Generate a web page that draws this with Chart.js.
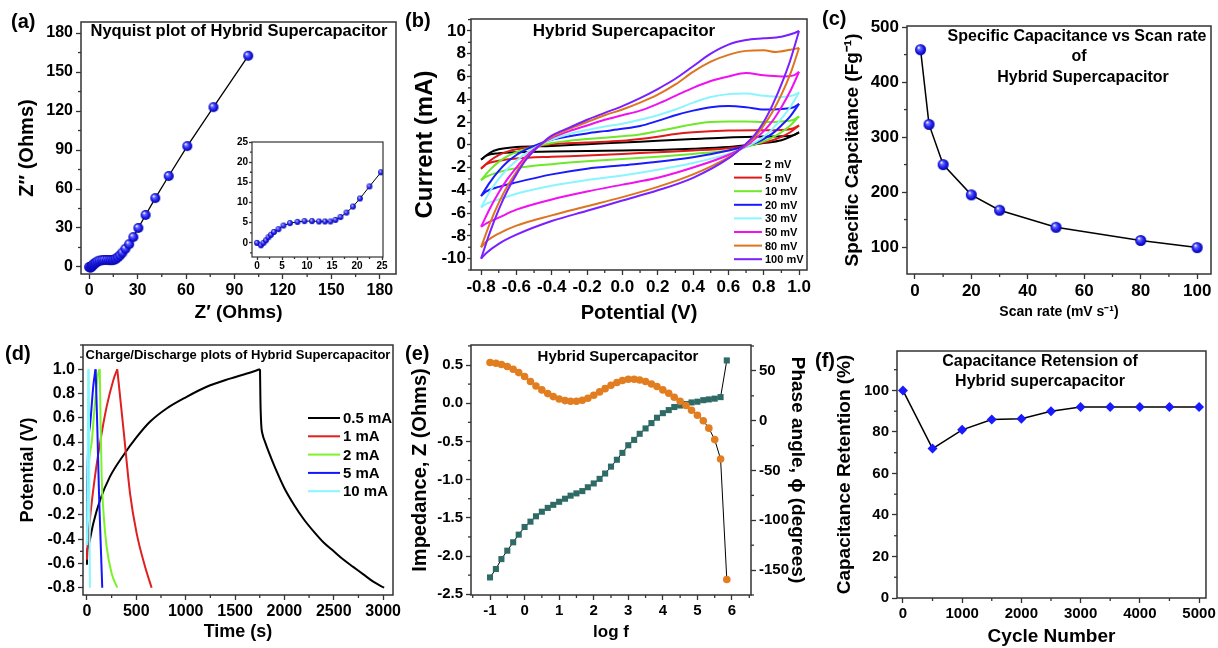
<!DOCTYPE html>
<html>
<head>
<meta charset="utf-8">
<title>Hybrid Supercapacitor</title>
<script src="https://cdn.jsdelivr.net/npm/chart.js@4.4.1/dist/chart.umd.min.js"></script>
<style>
  body { margin: 0; background: #fff; }
  #fig { position: relative; width: 1218px; height: 648px; overflow: hidden; background: #fff; }
  #fig canvas { position: absolute; }
  .tag { position: absolute; font: bold 20px/20px "Liberation Sans", Arial, sans-serif; color: #000; }
</style>
</head>
<body>
<div id="fig">
  <canvas id="chartA" width="405" height="325" style="left:0;top:0"></canvas>
  <canvas id="chartInset" width="160" height="140" style="left:230px;top:135px"></canvas>
  <canvas id="chartB" width="410" height="325" style="left:405px;top:0"></canvas>
  <canvas id="chartC" width="403" height="325" style="left:815px;top:0"></canvas>
  <canvas id="chartD" width="405" height="318" style="left:0;top:330px"></canvas>
  <canvas id="chartE" width="405" height="318" style="left:405px;top:330px"></canvas>
  <canvas id="chartF" width="403" height="318" style="left:815px;top:330px"></canvas>
  <div class="tag" style="left:11px;top:11px">(a)</div>
  <div class="tag" style="left:405px;top:10px">(b)</div>
  <div class="tag" style="left:822px;top:8px">(c)</div>
  <div class="tag" style="left:5px;top:343px">(d)</div>
  <div class="tag" style="left:405px;top:343px">(e)</div>
  <div class="tag" style="left:815px;top:350px">(f)</div>
</div>
<script>
const FONT = '"Liberation Sans", Arial, sans-serif';

// (a) Nyquist plot
const nyqX = [0, 0.8, 1.3, 1.8, 2.3, 2.8, 3.4, 4.3, 5.3, 6.6, 8.1, 9.5, 11, 12.4, 13.6, 14.7, 15.7, 16.7, 17.9, 19.2, 20.6, 22.5, 24.8, 27.4, 30.5, 35, 41, 49.3, 60.8, 77, 98.5];
const nyqY = [0, -0.6, 0, 0.65, 1.4, 2, 2.7, 3.4, 4.3, 4.9, 5.2, 5.4, 5.4, 5.3, 5.3, 5.3, 5.7, 6.4, 7.5, 9, 11, 14, 17.5, 23, 30, 40, 53, 70, 93, 123, 162.5];
const nyqTicks = [0, 30, 60, 90, 120, 150, 180];
const insetTicks = [0, 5, 10, 15, 20, 25];

// (b) cyclic voltammetry, [potential V, current mA]
const cvLabels = ['2 mV', '5 mV', '10 mV', '20 mV', '30 mV', '50 mV', '80 mV', '100 mV'];
const cvColors = ['#000000', '#e01a1a', '#6ee82a', '#1a1aff', '#8af4ff', '#f010f0', '#dd7420', '#7a1fff'];
const cv2Up = [[-0.8,-1.3],[-0.75,-0.7],[-0.7,-0.4],[-0.6,-0.2],[-0.4,-0.1],[-0.2,0.05],[0,0.2],[0.2,0.35],[0.4,0.5],[0.6,0.65],[0.8,0.72],[0.9,0.75],[0.97,0.85],[1.0,1.1]];
const cv2Dn = [[1.0,1.1],[0.95,0.7],[0.9,0.4],[0.8,0.15],[0.7,-0.05],[0.6,-0.2],[0.4,-0.35],[0.2,-0.45],[0,-0.5],[-0.2,-0.55],[-0.4,-0.6],[-0.6,-0.65],[-0.7,-0.75],[-0.77,-0.95],[-0.8,-1.3]];
const cv5Up = [[-0.8,-2.1],[-0.75,-1.4],[-0.7,-0.9],[-0.65,-0.6],[-0.6,-0.4],[-0.5,-0.15],[-0.4,0.05],[-0.2,0.2],[0,0.35],[0.1,0.5],[0.2,0.7],[0.3,0.95],[0.4,1.1],[0.6,1.25],[0.8,1.28],[0.9,1.3],[0.97,1.45],[1.0,1.7]];
const cv5Dn = [[1.0,1.7],[0.95,1.1],[0.9,0.7],[0.85,0.4],[0.8,0.2],[0.7,-0.1],[0.6,-0.3],[0.4,-0.5],[0.2,-0.65],[0,-0.8],[-0.2,-0.95],[-0.4,-1.05],[-0.6,-1.2],[-0.7,-1.4],[-0.77,-1.7],[-0.8,-2.1]];
const cv10Up = [[-0.8,-3.1],[-0.75,-2.2],[-0.7,-1.5],[-0.65,-1.0],[-0.6,-0.65],[-0.5,-0.2],[-0.4,0.15],[-0.3,0.35],[-0.2,0.5],[0,0.75],[0.1,0.9],[0.2,1.2],[0.3,1.5],[0.4,1.8],[0.5,2.0],[0.6,2.05],[0.7,2.05],[0.8,2.0],[0.9,2.05],[0.97,2.2],[1.0,2.5]];
const cv10Dn = [[1.0,2.5],[0.95,1.7],[0.9,1.1],[0.85,0.65],[0.8,0.3],[0.7,-0.2],[0.6,-0.5],[0.4,-0.8],[0.2,-1.05],[0,-1.25],[-0.2,-1.45],[-0.4,-1.7],[-0.6,-2.05],[-0.7,-2.4],[-0.77,-2.8],[-0.8,-3.1]];
const cv20Up = [[-0.8,-4.5],[-0.75,-3.3],[-0.7,-2.3],[-0.65,-1.5],[-0.6,-0.9],[-0.55,-0.45],[-0.5,-0.1],[-0.45,0.2],[-0.4,0.45],[-0.3,0.75],[-0.2,1.0],[-0.1,1.2],[0,1.4],[0.1,1.65],[0.2,2.1],[0.3,2.6],[0.4,3.0],[0.5,3.3],[0.6,3.4],[0.7,3.3],[0.8,3.1],[0.9,3.15],[0.97,3.3],[1.0,3.6]];
const cv20Dn = [[1.0,3.6],[0.95,2.5],[0.9,1.7],[0.85,1.0],[0.8,0.5],[0.75,0.15],[0.7,-0.1],[0.6,-0.5],[0.4,-1.1],[0.2,-1.5],[0,-1.8],[-0.2,-2.1],[-0.4,-2.6],[-0.6,-3.3],[-0.7,-3.7],[-0.77,-4.1],[-0.8,-4.5]];
const cv30Up = [[-0.8,-5.5],[-0.75,-4.1],[-0.7,-3.0],[-0.65,-2.1],[-0.6,-1.4],[-0.55,-0.8],[-0.5,-0.3],[-0.45,0.1],[-0.4,0.45],[-0.3,0.95],[-0.2,1.3],[-0.1,1.6],[0,1.85],[0.1,2.2],[0.2,2.6],[0.3,3.1],[0.4,3.7],[0.5,4.2],[0.6,4.45],[0.7,4.5],[0.8,4.3],[0.9,4.2],[0.97,4.35],[1.0,4.6]];
const cv30Dn = [[1.0,4.6],[0.95,3.3],[0.9,2.3],[0.85,1.4],[0.8,0.7],[0.75,0.2],[0.7,-0.2],[0.6,-0.8],[0.4,-1.6],[0.2,-2.2],[0,-2.7],[-0.2,-3.1],[-0.4,-3.6],[-0.6,-4.3],[-0.7,-4.8],[-0.77,-5.2],[-0.8,-5.5]];
const cv50Up = [[-0.8,-7.2],[-0.75,-5.6],[-0.7,-4.2],[-0.65,-3.0],[-0.6,-2.0],[-0.55,-1.1],[-0.5,-0.4],[-0.45,0.15],[-0.4,0.6],[-0.3,1.2],[-0.2,1.7],[-0.1,2.2],[0,2.6],[0.1,3.0],[0.2,3.6],[0.3,4.3],[0.4,5.0],[0.5,5.6],[0.6,6.0],[0.7,6.3],[0.8,6.1],[0.9,6.0],[0.97,6.1],[1.0,6.4]];
const cv50Dn = [[1.0,6.4],[0.95,4.7],[0.9,3.3],[0.85,2.1],[0.8,1.2],[0.75,0.5],[0.7,-0.1],[0.6,-0.9],[0.4,-2.0],[0.2,-2.9],[0,-3.5],[-0.2,-4.1],[-0.4,-4.8],[-0.6,-5.7],[-0.7,-6.4],[-0.77,-6.9],[-0.8,-7.2]];
const cv80Up = [[-0.8,-9],[-0.75,-6.9],[-0.7,-5.1],[-0.65,-3.6],[-0.6,-2.4],[-0.55,-1.3],[-0.5,-0.5],[-0.45,0.15],[-0.4,0.7],[-0.3,1.4],[-0.2,2.0],[-0.1,2.6],[0,3.1],[0.1,3.7],[0.2,4.4],[0.3,5.3],[0.4,6.4],[0.5,7.3],[0.6,7.9],[0.7,8.25],[0.8,8.3],[0.87,8.15],[0.95,8.35],[1.0,8.5]];
const cv80Dn = [[1.0,8.5],[0.95,6.2],[0.9,4.4],[0.85,2.9],[0.8,1.7],[0.75,0.7],[0.7,0.0],[0.6,-1.1],[0.4,-2.6],[0.2,-3.7],[0,-4.6],[-0.2,-5.4],[-0.4,-6.2],[-0.6,-7.1],[-0.7,-7.8],[-0.77,-8.5],[-0.8,-9]];
const cv100Up = [[-0.8,-10],[-0.75,-7.7],[-0.7,-5.7],[-0.65,-4.0],[-0.6,-2.6],[-0.55,-1.4],[-0.5,-0.5],[-0.45,0.2],[-0.4,0.8],[-0.3,1.5],[-0.2,2.2],[-0.1,2.8],[0,3.4],[0.1,4.1],[0.2,4.9],[0.3,5.8],[0.4,6.9],[0.5,8.0],[0.6,8.8],[0.7,9.2],[0.8,9.35],[0.9,9.5],[0.97,9.8],[1.0,10]];
const cv100Dn = [[1.0,10],[0.95,7.4],[0.9,5.3],[0.85,3.5],[0.8,2.0],[0.75,0.9],[0.7,0.1],[0.6,-1.2],[0.4,-2.9],[0.2,-4.0],[0,-4.9],[-0.2,-5.8],[-0.4,-6.7],[-0.6,-7.9],[-0.7,-8.7],[-0.77,-9.5],[-0.8,-10]];
const cvPotTicks = [-0.8, -0.6, -0.4, -0.2, 0, 0.2, 0.4, 0.6, 0.8, 1.0];
const cvCurTicks = [-10, -8, -6, -4, -2, 0, 2, 4, 6, 8, 10];

// (c) specific capacitance vs scan rate
const scanRate = [2, 5, 10, 20, 30, 50, 80, 100];
const specCap = [459, 323, 250, 195, 167, 136, 112, 99];
const scanTicks = [0, 20, 40, 60, 80, 100];
const capTicks = [100, 200, 300, 400, 500];

// (d) charge/discharge, [time s, potential V]
const gcdLabels = ['0.5 mA', '1 mA', '2 mA', '5 mA', '10 mA'];
const gcdColors = ['#000000', '#e02020', '#7cf22a', '#1414ff', '#86f6ff'];
const gcd05Chg = [[0,-0.61],[3,-0.5],[13,-0.46],[64,-0.27],[132,-0.08],[233,0.115],[368,0.29],[503,0.44],[638,0.567],[807,0.677],[1010,0.773],[1213,0.856],[1449,0.923],[1620,0.965],[1753,1.0]];
const gcd05Dis = [[1753,1.0],[1757,0.75],[1765,0.55],[1780,0.46],[1800,0.41],[1850,0.3],[1900,0.2],[2000,0.02],[2100,-0.12],[2200,-0.24],[2300,-0.34],[2400,-0.43],[2500,-0.5],[2600,-0.57],[2700,-0.63],[2800,-0.69],[2900,-0.75],[3010,-0.8]];
const gcd1Chg = [[0,-0.57],[3,-0.5],[30,-0.24],[81,0.115],[132,0.39],[199,0.69],[267,0.91],[307,1.0]];
const gcd1Dis = [[307,1.0],[372,0.49],[436,-0.02],[503,-0.35],[588,-0.625],[655,-0.8]];
const gcd2Chg = [[0,-0.35],[3,-0.1],[47,0.39],[81,0.72],[115,0.97],[128,1.0]];
const gcd2Dis = [[130,1.0],[139,0.52],[149,0.115],[166,-0.16],[199,-0.46],[250,-0.68],[307,-0.8]];
const gcd5Chg = [[0,-0.45],[2,0.0],[30,0.53],[64,0.86],[86,1.0]];
const gcd5Dis = [[88,1.0],[105,0.52],[122,-0.02],[139,-0.43],[155,-0.8]];
const gcd10Chg = [[0,-0.45],[14,1.0]];
const gcd10Dis = [[18,1.0],[30,-0.8]];
const timeTicks = [0, 500, 1000, 1500, 2000, 2500, 3000];
const gcdPotTicks = [-0.8, -0.6, -0.4, -0.2, 0, 0.2, 0.4, 0.6, 0.8, 1.0];

// (e) Bode plot
const logF = [-1, -0.83, -0.67, -0.5, -0.33, -0.17, 0, 0.17, 0.33, 0.5, 0.67, 0.83, 1, 1.17, 1.33, 1.5, 1.67, 1.83, 2, 2.17, 2.33, 2.5, 2.67, 2.83, 3, 3.17, 3.33, 3.5, 3.67, 3.83, 4, 4.17, 4.33, 4.5, 4.67, 4.83, 5, 5.17, 5.33, 5.5, 5.67, 5.85];
const impedance = [-2.28, -2.17, -2.04, -1.93, -1.82, -1.72, -1.62, -1.55, -1.48, -1.42, -1.37, -1.33, -1.29, -1.25, -1.21, -1.18, -1.15, -1.10, -1.05, -0.99, -0.92, -0.83, -0.74, -0.65, -0.55, -0.48, -0.40, -0.33, -0.26, -0.19, -0.13, -0.09, -0.05, -0.03, -0.01, 0.01, 0.02, 0.04, 0.05, 0.06, 0.08, 0.56];
const phase = [58.4, 57.7, 56.4, 54.4, 51.7, 48.3, 44.3, 39.3, 34.9, 30.9, 27.2, 24.2, 21.8, 20.2, 19.5, 19.5, 20.5, 22.5, 25.5, 28.9, 32.2, 35.6, 38.3, 40.3, 41.6, 41.6, 40.9, 39.3, 36.9, 34.3, 30.9, 27.5, 23.5, 19.5, 15.2, 10.5, 5.4, 0, -7.5, -19, -38.5, -159.5];
const logTicks = [-1, 0, 1, 2, 3, 4, 5, 6];
const impTicks = [-2.5, -2.0, -1.5, -1.0, -0.5, 0, 0.5];
const phaseTicks = [-150, -100, -50, 0, 50];

// (f) cycling stability
const cycles = [0, 500, 1000, 1500, 2000, 2500, 3000, 3500, 4000, 4500, 5000];
const retention = [100, 72, 81, 86, 86.4, 90, 92, 92, 92, 92, 92];
const cycleTicks = [0, 1000, 2000, 3000, 4000, 5000];
const retTicks = [0, 20, 40, 60, 80, 100];

Chart.defaults.animation = false;
Chart.defaults.events = [];
Chart.defaults.font.family = FONT;
Chart.defaults.plugins.legend.display = false;
Chart.defaults.plugins.tooltip.enabled = false;

// shaded blue ball used as marker in (a), (c)
function ball(r) {
  const c = document.createElement('canvas');
  const s = Math.ceil(r * 2 + 2);
  c.width = c.height = s;
  const g = c.getContext('2d');
  const m = s / 2;
  const grad = g.createRadialGradient(m - r * 0.35, m - r * 0.4, r * 0.08, m, m, r);
  grad.addColorStop(0, '#ffffff');
  grad.addColorStop(0.22, '#7070ff');
  grad.addColorStop(0.6, '#2424f2');
  grad.addColorStop(1, '#0000a8');
  g.fillStyle = grad;
  g.beginPath();
  g.arc(m, m, r, 0, Math.PI * 2);
  g.fill();
  return c;
}

const pts = arr => arr.map(([x, y]) => ({ x, y }));
const xy = (xs, ys) => xs.map((x, i) => ({ x, y: ys[i] }));

// frame box, minor ticks, in-plot titles and hand-drawn legends
const deco = {
  id: 'deco',
  afterDraw(chart, args, o) {
    const { ctx, chartArea: a } = chart;
    ctx.save();
    ctx.strokeStyle = '#333';
    ctx.lineWidth = 1.3;
    for (const [id, step] of Object.entries(o.minor || {})) {
      const s = chart.scales[id];
      const len = o.minorLen || 3;
      for (let v = Math.ceil(s.min / step) * step; v <= s.max + 1e-9; v += step) {
        if (s.ticks.some(t => Math.abs(t.value - v) < step / 10)) continue;
        const p = s.getPixelForValue(v);
        ctx.beginPath();
        if (s.position === 'bottom') { ctx.moveTo(p, a.bottom); ctx.lineTo(p, a.bottom + len); }
        else if (s.position === 'left') { ctx.moveTo(a.left, p); ctx.lineTo(a.left - len, p); }
        else { ctx.moveTo(a.right, p); ctx.lineTo(a.right + len, p); }
        ctx.stroke();
      }
    }
    ctx.lineWidth = o.frame || 1.5;
    ctx.strokeRect(a.left, a.top, a.right - a.left, a.bottom - a.top);
    ctx.fillStyle = '#000';
    ctx.textAlign = 'center';
    ctx.textBaseline = 'middle';
    for (const t of o.texts || []) {
      ctx.font = 'bold ' + t.size + 'px ' + FONT;
      ctx.fillText(t.text, t.x, t.y);
    }
    const L = o.key;
    if (L) {
      ctx.font = 'bold ' + L.size + 'px ' + FONT;
      ctx.textAlign = 'left';
      L.labels.forEach((lab, i) => {
        const y = L.y + i * L.dy;
        ctx.strokeStyle = L.colors[i];
        ctx.lineWidth = 2;
        ctx.beginPath();
        ctx.moveTo(L.x, y);
        ctx.lineTo(L.x + L.w, y);
        ctx.stroke();
        ctx.fillText(lab, L.x + L.w + 3, y + 1);
      });
    }
    ctx.restore();
  }
};
Chart.register(deco);

function axis(o) {
  const vertical = o.pos !== 'bottom';
  return {
    type: 'linear',
    position: o.pos,
    min: o.min,
    max: o.max,
    afterBuildTicks: s => { s.ticks = o.ticks.map(v => ({ value: v })); },
    afterFit: s => { if (vertical) s.width = o.size; else s.height = o.size; },
    border: { display: false },
    grid: { drawOnChartArea: false, drawTicks: true, tickLength: o.tickLen || 5, tickWidth: 1.3, tickColor: '#333' },
    ticks: {
      autoSkip: false,
      maxRotation: 0,
      padding: o.tickPad == null ? 2 : o.tickPad,
      color: '#000',
      font: { family: FONT, weight: 'bold', size: o.tickFont },
      callback: v => o.dec == null ? String(v) : v.toFixed(o.dec)
    },
    title: {
      display: !!o.title,
      text: o.title,
      color: '#000',
      font: { family: FONT, weight: 'bold', size: o.titleFont },
      padding: o.titlePad || 0
    }
  };
}

// (a)
new Chart(document.getElementById('chartA'), {
  type: 'scatter',
  data: {
    datasets: [{
      data: xy(nyqX, nyqY),
      showLine: true,
      borderColor: '#000',
      borderWidth: 1.3,
      pointStyle: ball(5),
      pointRadius: 5
    }]
  },
  options: {
    responsive: false,
    layout: { padding: { left: 0, top: 22, right: 9, bottom: 0 } },
    scales: {
      x: axis({ pos: 'bottom', min: -5, max: 190, ticks: nyqTicks, size: 51, tickFont: 16, title: 'Z\u2032 (Ohms)', titleFont: 19, titlePad: { bottom: 1 } }),
      y: axis({ pos: 'left', min: -5.4, max: 188.5, ticks: nyqTicks, size: 81, tickFont: 16, tickPad: 3, title: 'Z\u2033 (Ohms)', titleFont: 20, titlePad: { top: 15 } })
    },
    plugins: {
      deco: {
        minor: { x: 15, y: 15 },
        texts: [{ text: 'Nyquist plot of Hybrid Supercapacitor', x: 239, y: 31, size: 16.5 }]
      }
    }
  }
});

// (a) inset, zoom on the semicircle
new Chart(document.getElementById('chartInset'), {
  type: 'scatter',
  data: {
    datasets: [{
      data: xy(nyqX, nyqY).filter(p => p.x <= 25),
      showLine: true,
      borderColor: '#000',
      borderWidth: 1,
      pointStyle: ball(2.9),
      pointRadius: 3
    }]
  },
  options: {
    responsive: false,
    layout: { padding: { left: 0, top: 7, right: 7, bottom: 0 } },
    scales: {
      x: axis({ pos: 'bottom', min: -1, max: 25.2, ticks: insetTicks, size: 18, tickFont: 10, tickLen: 3, tickPad: 0 }),
      y: axis({ pos: 'left', min: -3.5, max: 25, ticks: insetTicks, size: 22, tickFont: 10, tickLen: 3, tickPad: 1 })
    },
    plugins: { deco: { minor: { x: 2.5, y: 2.5 }, minorLen: 2, frame: 1.2 } }
  }
});

// (b)
const cvUp = [cv2Up, cv5Up, cv10Up, cv20Up, cv30Up, cv50Up, cv80Up, cv100Up];
const cvDn = [cv2Dn, cv5Dn, cv10Dn, cv20Dn, cv30Dn, cv50Dn, cv80Dn, cv100Dn];
const cvSets = [];
cvLabels.forEach((lab, i) => {
  [cvUp[i], cvDn[i]].forEach(branch => cvSets.push({
    label: lab,
    data: pts(branch),
    showLine: true,
    borderColor: cvColors[i],
    borderWidth: 2,
    pointRadius: 0,
    cubicInterpolationMode: 'monotone',
    order: -i
  }));
});
new Chart(document.getElementById('chartB'), {
  type: 'scatter',
  data: { datasets: cvSets },
  options: {
    responsive: false,
    layout: { padding: { left: 0, top: 19, right: 8, bottom: 0 } },
    scales: {
      x: axis({ pos: 'bottom', min: -0.857, max: 1.045, ticks: cvPotTicks, dec: 1, size: 55, tickFont: 17, title: 'Potential (V)', titleFont: 20, titlePad: { bottom: 0 } }),
      y: axis({ pos: 'left', min: -11, max: 11.05, ticks: cvCurTicks, size: 66, tickFont: 17, tickLen: 4, tickPad: 1, title: 'Current (mA)', titleFont: 24, titlePad: { top: 6 } })
    },
    plugins: {
      deco: {
        minor: { x: 0.1, y: 1 },
        texts: [{ text: 'Hybrid Supercapacitor', x: 219, y: 31, size: 17 }],
        key: { labels: cvLabels, colors: cvColors, x: 329, y: 164, dy: 13.6, w: 28, size: 11 }
      }
    }
  }
});

// (c)
new Chart(document.getElementById('chartC'), {
  type: 'scatter',
  data: {
    datasets: [{
      data: xy(scanRate, specCap),
      showLine: true,
      borderColor: '#000',
      borderWidth: 1.5,
      pointStyle: ball(5.5),
      pointRadius: 5.5
    }]
  },
  options: {
    responsive: false,
    layout: { padding: { left: 0, top: 26, right: 4, bottom: 0 } },
    scales: {
      x: axis({ pos: 'bottom', min: -2.8, max: 104.9, ticks: scanTicks, size: 51, tickFont: 17, title: 'Scan rate (mV s\u207B\u00B9)', titleFont: 14, titlePad: { bottom: 4 } }),
      y: axis({ pos: 'left', min: 51, max: 502, ticks: capTicks, size: 92, tickFont: 17, tickPad: 3, title: 'Specific Capcitance (Fg\u207B\u00B9)', titleFont: 19, titlePad: { top: 26 } })
    },
    plugins: {
      deco: {
        minor: { x: 10, y: 50 },
        texts: [
          { text: 'Specific Capacitance vs Scan rate', x: 262, y: 37, size: 16 },
          { text: 'of', x: 264, y: 57, size: 16 },
          { text: 'Hybrid Supercapacitor', x: 268, y: 78, size: 16 }
        ]
      }
    }
  }
});

// (d)
const gcdChg = [gcd05Chg, gcd1Chg, gcd2Chg, gcd5Chg, gcd10Chg];
const gcdDis = [gcd05Dis, gcd1Dis, gcd2Dis, gcd5Dis, gcd10Dis];
const gcdSets = [];
gcdLabels.forEach((lab, i) => {
  [gcdChg[i], gcdDis[i]].forEach(part => gcdSets.push({
    label: lab,
    data: pts(part),
    showLine: true,
    borderColor: gcdColors[i],
    borderWidth: 2,
    pointRadius: 0,
    cubicInterpolationMode: 'monotone',
    order: -i
  }));
});
new Chart(document.getElementById('chartD'), {
  type: 'scatter',
  data: { datasets: gcdSets },
  options: {
    responsive: false,
    layout: { padding: { left: 0, top: 15, right: 12, bottom: 0 } },
    scales: {
      x: axis({ pos: 'bottom', min: -40, max: 3100, ticks: timeTicks, size: 53, tickFont: 16, title: 'Time (s)', titleFont: 18, titlePad: { bottom: 5 } }),
      y: axis({ pos: 'left', min: -0.86, max: 1.2, ticks: gcdPotTicks, dec: 1, size: 83, tickFont: 16, tickPad: 3, title: 'Potential (V)', titleFont: 18, titlePad: { top: 17 } })
    },
    plugins: {
      deco: {
        minor: { x: 250, y: 0.1 },
        texts: [{ text: 'Charge/Discharge plots of Hybrid Supercapacitor', x: 238, y: 25, size: 13 }],
        key: { labels: gcdLabels, colors: gcdColors, x: 308, y: 88, dy: 18.3, w: 32, size: 15 }
      }
    }
  }
});

// (e)
new Chart(document.getElementById('chartE'), {
  type: 'scatter',
  data: {
    datasets: [
      {
        label: 'Phase angle',
        data: xy(logF, phase),
        yAxisID: 'y2',
        showLine: true,
        borderColor: '#000',
        borderWidth: 1,
        pointStyle: 'circle',
        pointRadius: 3.8,
        pointBackgroundColor: '#e27d20',
        pointBorderWidth: 0
      },
      {
        label: 'Impedance',
        data: xy(logF, impedance),
        yAxisID: 'y',
        showLine: true,
        borderColor: '#000',
        borderWidth: 1,
        pointStyle: 'rect',
        pointRadius: 4.3,
        pointBackgroundColor: '#2f6b66',
        pointBorderWidth: 0
      }
    ]
  },
  options: {
    responsive: false,
    layout: { padding: { left: 0, top: 15, right: 0, bottom: 0 } },
    scales: {
      x: axis({ pos: 'bottom', min: -1.55, max: 6.55, ticks: logTicks, size: 53, tickFont: 15, title: 'log f', titleFont: 17, titlePad: { bottom: 5 } }),
      y: axis({ pos: 'left', min: -2.51, max: 0.762, ticks: impTicks, dec: 1, size: 66, tickFont: 15, tickPad: 3, title: 'Impedance, Z (Ohms)', titleFont: 20, titlePad: { top: 3 } }),
      y2: axis({ pos: 'right', min: -175, max: 76, ticks: phaseTicks, size: 59, tickFont: 15, tickPad: 3, title: 'Phase angle, \u03D5 (degrees)', titleFont: 19, titlePad: { top: 1 } })
    },
    plugins: {
      deco: {
        minor: { x: 0.5, y: 0.25, y2: 25 },
        texts: [{ text: 'Hybrid Supercapacitor', x: 213, y: 27, size: 15 }]
      }
    }
  }
});

// (f)
new Chart(document.getElementById('chartF'), {
  type: 'scatter',
  data: {
    datasets: [{
      data: xy(cycles, retention),
      showLine: true,
      borderColor: '#000',
      borderWidth: 1.5,
      pointStyle: 'rectRot',
      pointRadius: 5,
      pointBackgroundColor: '#1a1aff',
      pointBorderWidth: 0
    }]
  },
  options: {
    responsive: false,
    layout: { padding: { left: 0, top: 21, right: 12, bottom: 0 } },
    scales: {
      x: axis({ pos: 'bottom', min: -100, max: 5117, ticks: cycleTicks, size: 50, tickFont: 15, title: 'Cycle Number', titleFont: 19, titlePad: { bottom: 0 } }),
      y: axis({ pos: 'left', min: 0, max: 119, ticks: retTicks, size: 82, tickFont: 15, tickPad: 3, title: 'Capacitance Retention (%)', titleFont: 19, titlePad: { top: 18 } })
    },
    plugins: {
      deco: {
        minor: { x: 500, y: 10 },
        texts: [
          { text: 'Capacitance Retension of', x: 225, y: 32, size: 16 },
          { text: 'Hybrid supercapacitor', x: 225, y: 52, size: 16 }
        ]
      }
    }
  }
});
</script>
</body>
</html>
